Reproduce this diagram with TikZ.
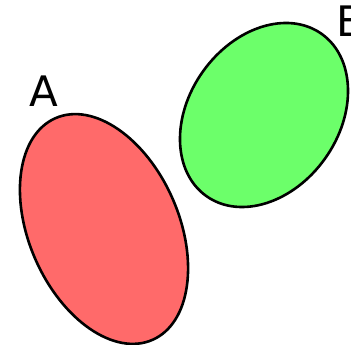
\documentclass[tikz,border=0pt]{standalone}
\usepackage{fontspec}
\setmainfont{DejaVu Sans}
\usepackage{tikz}
\usetikzlibrary{positioning}

\begin{document}
\begin{tikzpicture}[
  x=1pt,y=1pt,
  setred/.style={draw=black,line width=2.6pt,fill=setA},
  setgreen/.style={draw=black,line width=2.6pt,fill=setB},
  setlabel/.style={font=\fontsize{42}{42}\selectfont,inner sep=0pt,anchor=base}
]
\definecolor{setA}{HTML}{FF6A6A}
\definecolor{setB}{HTML}{6CFF6A}
\useasboundingbox (0,0) rectangle (351,345);
\draw[setred] (104,116) ellipse [x radius=75,y radius=121,rotate=23.6];
\draw[setgreen] (264,230) ellipse [x radius=75,y radius=99.5,rotate=-35.4];
\node[setlabel] (la) at (44,238) {A};
\node[setlabel] (lb) at (351,308) {B};
\end{tikzpicture}
\end{document}
